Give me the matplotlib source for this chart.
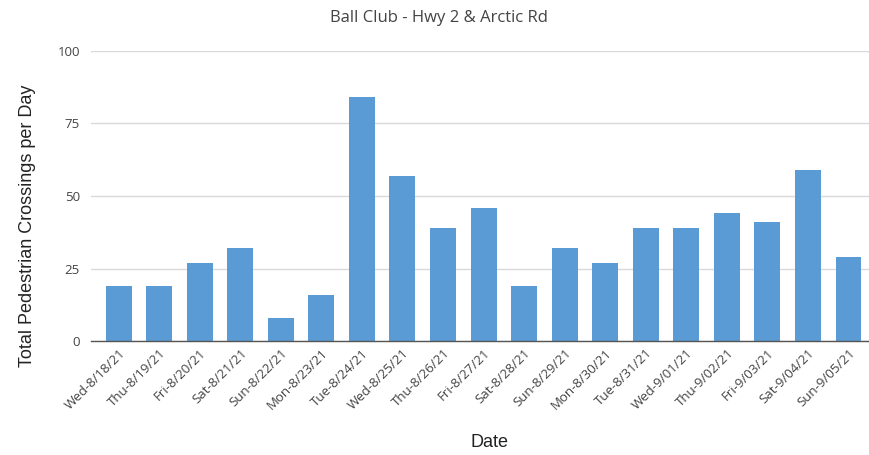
import matplotlib.pyplot as plt

dates = ['Wed-8/18/21', 'Thu-8/19/21', 'Fri-8/20/21', 'Sat-8/21/21', 'Sun-8/22/21',
         'Mon-8/23/21', 'Tue-8/24/21', 'Wed-8/25/21', 'Thu-8/26/21', 'Fri-8/27/21',
         'Sat-8/28/21', 'Sun-8/29/21', 'Mon-8/30/21', 'Tue-8/31/21', 'Wed-9/01/21',
         'Thu-9/02/21', 'Fri-9/03/21', 'Sat-9/04/21', 'Sun-9/05/21']
crossings = [19, 19, 27, 32, 8, 16, 84, 57, 39, 46, 19, 32, 27, 39, 39, 44, 41, 59, 29]
yticks = [0, 25, 50, 75, 100]

fig = plt.figure(figsize=(8.7, 4.55), dpi=100)
ax = fig.add_axes([0.1046, 0.2505, 0.894, 0.6375])

x = list(range(len(dates)))
ax.bar(x, crossings, width=0.64, color='#5B9BD5', zorder=3)

ax.set_ylim(0, 100)
ax.set_xlim(-0.68, len(dates) - 0.5)
ax.set_yticks(yticks)
ax.set_xticks(x)
ax.set_xticklabels(dates, rotation=45, ha='right', rotation_mode='anchor',
                   fontsize=9.5, color='#444444', family='Open Sans')
for lbl in ax.get_yticklabels():
    lbl.set_family('Open Sans')
ax.tick_params(axis='y', length=0, labelsize=9.5, labelcolor='#444444', pad=8)
ax.tick_params(axis='x', length=0, pad=4)
ax.yaxis.grid(True, color='#D9D9D9', linewidth=1, zorder=0)

for s in ['top', 'right', 'left']:
    ax.spines[s].set_visible(False)
ax.spines['bottom'].set_color('#555555')
ax.spines['bottom'].set_linewidth(1)
ax.spines['bottom'].set_zorder(4)

fig.text(0.505, 0.96, 'Ball Club - Hwy 2 & Arctic Rd', ha='center', va='center',
         fontsize=12, color='#444444', family='Open Sans')
ax.set_ylabel('Total Pedestrian Crossings per Day', fontsize=13,
              family='Liberation Sans', color='#222222')
ax.yaxis.set_label_coords(-0.071, 0.397)
fig.text(0.563, 0.028, 'Date', ha='center', va='center', fontsize=13,
         family='Liberation Sans', color='#222222')

fig.savefig('out.png', dpi=100)
